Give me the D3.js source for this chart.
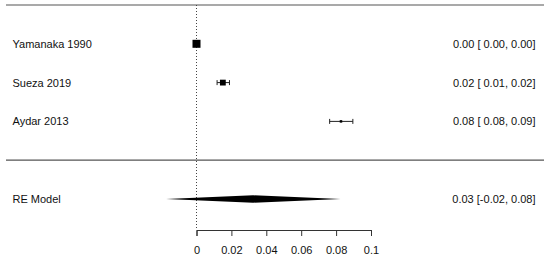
<!DOCTYPE html>
<html>
<head>
<meta charset="utf-8">
<script src="https://cdn.jsdelivr.net/npm/d3@7"></script>
<style>
  body { margin: 0; background: #fff; }
  svg { display: block; }
  text { font-family: "Liberation Sans", Arial, Helvetica, sans-serif; fill: #111; }
</style>
</head>
<body>
<div id="chart"></div>
<script>
// datos del forest plot ------------------------------------------
var studies = ["Yamanaka 1990", "Sueza 2019", "Aydar 2013"];
var yi = [0.0, 0.0151, 0.0828];
var ciLower = [0.0, 0.0118, 0.0763];
var ciUpper = [0.0, 0.0189, 0.0896];
var weights = [48.0, 35.5, 16.5];

// modelo de efectos aleatorios
var summaryLabel = "RE Model";
var summaryEst = 0.0325;
var summaryLower = -0.0174;
var summaryUpper = 0.0826;

var tickValues = [0, 0.02, 0.04, 0.06, 0.08, 0.1];
var tickLabels = ["0", "0.02", "0.04", "0.06", "0.08", "0.1"];

// Dimensiones
var width = 550,
  height = 261;

var svg = d3
  .select("#chart")
  .append("svg")
  .attr("width", width)
  .attr("height", height);

// Escalador X
var x = d3.scaleLinear().domain([0, 0.1]).range([196.5, 371]);

// Escalador Y (filas: k..1 estudios, 0 separador, -1 resumen)
var k = studies.length;
var y = d3.scaleLinear().domain([-1, k + 1]).range([199, 5]);

// Escalador tamaño de cuadrado
var size = d3
  .scaleLinear()
  .domain([d3.min(weights), d3.max(weights)])
  .range([2.5, 8]);

var rows = studies.map(function (s, i) {
  return {
    study: s,
    yi: yi[i],
    lb: ciLower[i],
    ub: ciUpper[i],
    w: weights[i],
    row: k - i,
  };
});

function fmt(v) {
  return v.toFixed(2);
}
function ciText(est, lb, ub) {
  return fmt(est) + " [" + fmt(lb).padStart(5, " ") + ", " + fmt(ub) + "]";
}

// Líneas horizontales
svg
  .append("line")
  .attr("x1", 6)
  .attr("x2", 544)
  .attr("y1", y(k + 1))
  .attr("y2", y(k + 1))
  .attr("stroke", "#555")
  .attr("stroke-width", 1.2);

svg
  .append("line")
  .attr("x1", 6)
  .attr("x2", 544)
  .attr("y1", y(0))
  .attr("y2", y(0))
  .attr("stroke", "#555")
  .attr("stroke-width", 1.2);

// Línea de referencia punteada en 0
svg
  .append("line")
  .attr("x1", x(0))
  .attr("x2", x(0))
  .attr("y1", y(k + 1))
  .attr("y2", 230)
  .attr("stroke", "#444")
  .attr("stroke-width", 1)
  .attr("stroke-dasharray", "1,2");

// Eje X
var axis = svg
  .append("g")
  .attr("transform", "translate(0,230)")
  .call(
    d3
      .axisBottom(x)
      .tickValues(tickValues)
      .tickFormat(function (d, i) {
        return tickLabels[i];
      })
      .tickSize(6)
      .tickPadding(10)
  );
axis.select(".domain").attr("stroke", "#333");
axis.selectAll(".tick line").attr("stroke", "#333");
axis
  .selectAll(".tick text")
  .attr("font-size", "11px")
  .attr("font-family", '"Liberation Sans", Arial, sans-serif')
  .attr("fill", "#111");

// Intervalos de confianza
var g = svg.append("g");

g.selectAll(".ci")
  .data(rows)
  .enter()
  .append("line")
  .attr("x1", (d) => x(d.lb))
  .attr("x2", (d) => x(d.ub))
  .attr("y1", (d) => y(d.row))
  .attr("y2", (d) => y(d.row))
  .attr("stroke", "#222")
  .attr("stroke-width", 1);

g.selectAll(".capL")
  .data(rows)
  .enter()
  .append("line")
  .attr("x1", (d) => x(d.lb))
  .attr("x2", (d) => x(d.lb))
  .attr("y1", (d) => y(d.row) - 2.5)
  .attr("y2", (d) => y(d.row) + 2.5)
  .attr("stroke", "#222")
  .attr("stroke-width", 1);

g.selectAll(".capR")
  .data(rows)
  .enter()
  .append("line")
  .attr("x1", (d) => x(d.ub))
  .attr("x2", (d) => x(d.ub))
  .attr("y1", (d) => y(d.row) - 2.5)
  .attr("y2", (d) => y(d.row) + 2.5)
  .attr("stroke", "#222")
  .attr("stroke-width", 1);

// Cuadrados por peso
g.selectAll("rect")
  .data(rows)
  .enter()
  .append("rect")
  .attr("x", (d) => x(d.yi) - size(d.w) / 2)
  .attr("y", (d) => y(d.row) - size(d.w) / 2)
  .attr("width", (d) => size(d.w))
  .attr("height", (d) => size(d.w))
  .attr("fill", "#000");

// Diamante del modelo
var yd = y(-1);
var h = 3.7;
svg
  .append("polygon")
  .attr(
    "points",
    [
      [x(summaryLower), yd],
      [x(summaryEst), yd - h],
      [x(summaryUpper), yd],
      [x(summaryEst), yd + h],
    ]
      .map((p) => p.join(","))
      .join(" ")
  )
  .attr("fill", "#000");

// Etiquetas izquierda
svg
  .selectAll(".lab")
  .data(rows)
  .enter()
  .append("text")
  .attr("x", 12.5)
  .attr("y", (d) => y(d.row))
  .attr("dy", "0.36em")
  .attr("font-size", "11px")
  .text((d) => d.study);

svg
  .append("text")
  .attr("x", 12.5)
  .attr("y", yd)
  .attr("dy", "0.36em")
  .attr("font-size", "11px")
  .text(summaryLabel);

// Etiquetas derecha
svg
  .selectAll(".est")
  .data(rows)
  .enter()
  .append("text")
  .attr("x", 535.5)
  .attr("y", (d) => y(d.row))
  .attr("dy", "0.36em")
  .attr("text-anchor", "end")
  .attr("font-size", "11px")
  .attr("xml:space", "preserve")
  .style("white-space", "pre")
  .text((d) => ciText(d.yi, d.lb, d.ub));

svg
  .append("text")
  .attr("x", 535.5)
  .attr("y", yd)
  .attr("dy", "0.36em")
  .attr("text-anchor", "end")
  .attr("font-size", "11px")
  .style("white-space", "pre")
  .text(ciText(summaryEst, summaryLower, summaryUpper));
</script>
</body>
</html>
